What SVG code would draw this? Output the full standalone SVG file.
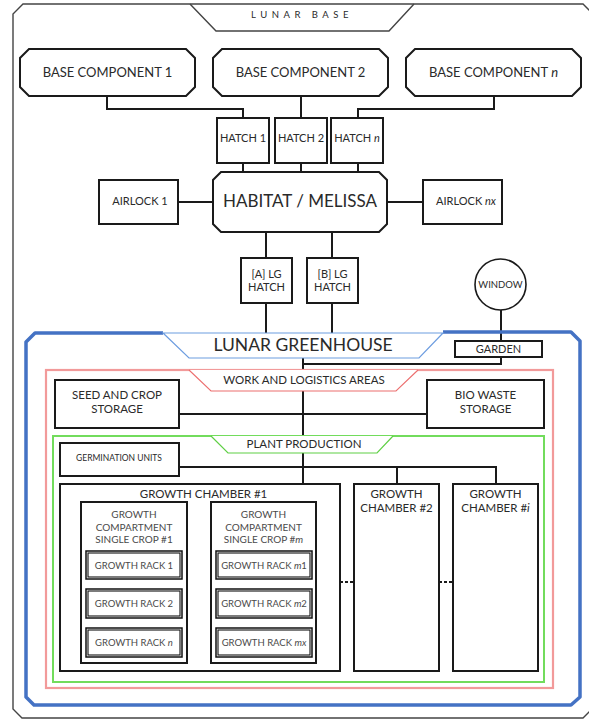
<svg xmlns="http://www.w3.org/2000/svg" width="589" height="719" viewBox="0 0 589 719">
<style>
text{font-family:Lato,"Open Sans","Liberation Sans",sans-serif;fill:#2a2a2a;text-anchor:middle}
.box{fill:#fff;stroke:#1a1a1a;stroke-width:2}
.ln{fill:none;stroke:#1a1a1a;stroke-width:2}
.frame{fill:none;stroke:#444;stroke-width:1.4}
.blue{fill:none;stroke:#4472c4;stroke-width:3.5;stroke-linejoin:round}
.bluetab{fill:#fff;stroke:#6d9de0;stroke-width:1.2}
.red{fill:none;stroke:#f29a9a;stroke-width:2.2}
.redtab{fill:#fff;stroke:#ec6f6f;stroke-width:1.1}
.green{fill:none;stroke:#72dc5c;stroke-width:2}
.greentab{fill:#fff;stroke:#5fcf45;stroke-width:1.2}
.rack{fill:#fff;stroke:#111;stroke-width:1.5}
.rackin{fill:none;stroke:#111;stroke-width:1.1}
.grey{fill:#4a4a4a}
.rt{fill:#4a4a4a;font-size:9.5px}
.it{font-style:italic}
</style>

<g id="lunar-base">
<path class="frame" d="M23,4 H583 L592,13 V709 L583,718 H22 L13,709 V14 Z"/>
<path class="frame" d="M190,4 L216,31 H389 L414,4"/>
<text x="302" y="18" font-size="9.5" letter-spacing="4.5">LUNAR BASE</text>
</g>

<g id="connectors">
<path class="ln" d="M107,96 V109 H243 V118"/>
<path class="ln" d="M301,96 V118"/>
<path class="ln" d="M494,96 V109 H358 V118"/>
<path class="ln" d="M243,163 V172 M301,163 V172 M358,163 V172"/>
<path class="ln" d="M178,202 H213 M387,202 H423"/>
<path class="ln" d="M266,232 V258 M332,232 V258"/>
<path class="ln" d="M266,303 V334 M332,303 V334"/>
<path class="ln" d="M501,310 V341"/>
<path class="ln" d="M501,357 V364 H303"/>
<path class="ln" d="M303,358 V371 M303,391 V437"/>
<path class="ln" d="M179,414 H427"/>
<path class="ln" d="M303,453 V484"/>
<path class="ln" d="M179,467 H496 V484 M397,467 V484"/>
<path class="ln" d="M340,582 H354 M439,582 H453" stroke-dasharray="3,2"/>
</g>

<g id="base-component-1">
<polygon class="box" points="29,49 186,49 195,58 195,87 186,96 29,96 20,87 20,58"/>
<text x="107.5" y="77" font-size="13">BASE COMPONENT 1</text>
</g>
<g id="base-component-2">
<polygon class="box" points="222,49 379,49 388,58 388,87 379,96 222,96 213,87 213,58"/>
<text x="300.5" y="77" font-size="13">BASE COMPONENT 2</text>
</g>
<g id="base-component-n">
<polygon class="box" points="415,49 572,49 581,58 581,87 572,96 415,96 406,87 406,58"/>
<text x="493.5" y="77" font-size="13">BASE COMPONENT <tspan class="it">n</tspan></text>
</g>

<g id="hatch-1">
<rect class="box" x="217" y="118" width="52" height="45"/>
<text x="243" y="142" font-size="11">HATCH 1</text>
</g>
<g id="hatch-2">
<rect class="box" x="275" y="118" width="52" height="45"/>
<text x="301" y="142" font-size="11">HATCH 2</text>
</g>
<g id="hatch-n">
<rect class="box" x="331" y="118" width="52" height="45"/>
<text x="357" y="142" font-size="11">HATCH <tspan class="it">n</tspan></text>
</g>

<g id="habitat">
<polygon class="box" points="221,172 379,172 387,180 387,224 379,232 221,232 213,224 213,180"/>
<text x="300" y="207" font-size="17">HABITAT / MELISSA</text>
</g>

<g id="airlock-1">
<rect class="box" x="99" y="180" width="79" height="44"/>
<text x="140" y="205" font-size="11">AIRLOCK 1</text>
</g>
<g id="airlock-nx">
<rect class="box" x="423" y="180" width="79" height="44"/>
<text x="466" y="205" font-size="11">AIRLOCK <tspan class="it">nx</tspan></text>
</g>

<g id="lg-hatch-a">
<rect class="box" x="241" y="258" width="51" height="45"/>
<text x="266.5" y="278" font-size="11">[A] LG</text>
<text x="266.5" y="291" font-size="11">HATCH</text>
</g>
<g id="lg-hatch-b">
<rect class="box" x="307" y="258" width="51" height="45"/>
<text x="332.5" y="278" font-size="11">[B] LG</text>
<text x="332.5" y="291" font-size="11">HATCH</text>
</g>

<g id="window">
<circle cx="500.5" cy="284.5" r="25.5" fill="#fff" stroke="#1a1a1a" stroke-width="1.6"/>
<text x="500.5" y="288" font-size="9.5">WINDOW</text>
</g>

<g id="lunar-greenhouse">
<path class="blue" d="M163,333 H35 L26,342 V697 L34,705 H571 L580,697 V341 L571,332 H443"/>
<path class="bluetab" d="M163,333 L189,358 H419 L443,333 Z"/>
<text x="303" y="351" font-size="17.5">LUNAR GREENHOUSE</text>
</g>

<g id="garden">
<rect class="box" x="455" y="341" width="87" height="16"/>
<text x="498.5" y="353" font-size="11">GARDEN</text>
</g>

<g id="work-logistics">
<rect class="red" x="46" y="370" width="507" height="318"/>
<path class="redtab" d="M189,370 L211,391 H396 L418,370"/>
<text x="304" y="384" font-size="11.5">WORK AND LOGISTICS AREAS</text>
</g>

<g id="seed-crop-storage">
<rect class="box" x="55" y="380" width="124" height="48"/>
<text x="117" y="399" font-size="11.5">SEED AND CROP</text>
<text x="117" y="413" font-size="11.5">STORAGE</text>
</g>
<g id="bio-waste-storage">
<rect class="box" x="427" y="380" width="117" height="48"/>
<text x="485.5" y="399" font-size="11.5">BIO WASTE</text>
<text x="485.5" y="413" font-size="11.5">STORAGE</text>
</g>

<g id="plant-production">
<rect class="green" x="53" y="436" width="491" height="246"/>
<path class="greentab" d="M211,436 L228,453 H377 L393,436"/>
<text x="304" y="448" font-size="11.5">PLANT PRODUCTION</text>
</g>

<g id="germination-units">
<rect class="box" x="60" y="443" width="119" height="33"/>
<text x="119" y="461" font-size="8.5">GERMINATION UNITS</text>
</g>

<g id="growth-chamber-1">
<rect class="box" x="60" y="484" width="280" height="187"/>
<text x="203.5" y="498" font-size="11.5">GROWTH CHAMBER #1</text>
</g>
<g id="growth-chamber-2">
<rect class="box" x="354" y="484" width="85" height="187"/>
<text x="396.5" y="498" font-size="11.5">GROWTH</text>
<text x="396.5" y="512" font-size="11.5">CHAMBER #2</text>
</g>
<g id="growth-chamber-i">
<rect class="box" x="453" y="484" width="85" height="187"/>
<text x="495.5" y="498" font-size="11.5">GROWTH</text>
<text x="495.5" y="512" font-size="11.5">CHAMBER #<tspan class="it">i</tspan></text>
</g>

<g id="compartment-1">
<rect class="box" x="81" y="502" width="106" height="161" stroke-width="2.4"/>
<text class="grey" x="134" y="518" font-size="10">GROWTH</text>
<text class="grey" x="134" y="531" font-size="10">COMPARTMENT</text>
<text class="grey" x="134" y="543" font-size="10">SINGLE CROP #1</text>
</g>
<g id="rack-1">
<rect class="rack" x="86" y="551" width="96" height="28"/><rect class="rackin" x="88" y="553" width="92" height="24"/>
<text class="rt" x="134" y="568.5">GROWTH RACK 1</text>
</g>
<g id="rack-2">
<rect class="rack" x="86" y="589" width="96" height="29"/><rect class="rackin" x="88" y="591" width="92" height="25"/>
<text class="rt" x="134" y="607">GROWTH RACK 2</text>
</g>
<g id="rack-n">
<rect class="rack" x="86" y="628" width="96" height="29"/><rect class="rackin" x="88" y="630" width="92" height="25"/>
<text class="rt" x="134" y="646">GROWTH RACK <tspan class="it">n</tspan></text>
</g>

<g id="compartment-m">
<rect class="box" x="211" y="502" width="105" height="161" stroke-width="2.4"/>
<text class="grey" x="263.5" y="518" font-size="10">GROWTH</text>
<text class="grey" x="263.5" y="531" font-size="10">COMPARTMENT</text>
<text class="grey" x="263.5" y="543" font-size="10">SINGLE CROP #<tspan class="it">m</tspan></text>
</g>
<g id="rack-m1">
<rect class="rack" x="216" y="551" width="96" height="28"/><rect class="rackin" x="218" y="553" width="92" height="24"/>
<text class="rt" x="264" y="568.5">GROWTH RACK <tspan class="it">m</tspan>1</text>
</g>
<g id="rack-m2">
<rect class="rack" x="216" y="589" width="96" height="29"/><rect class="rackin" x="218" y="591" width="92" height="25"/>
<text class="rt" x="264" y="607">GROWTH RACK <tspan class="it">m</tspan>2</text>
</g>
<g id="rack-mx">
<rect class="rack" x="216" y="628" width="96" height="29"/><rect class="rackin" x="218" y="630" width="92" height="25"/>
<text class="rt" x="264" y="646">GROWTH RACK <tspan class="it">mx</tspan></text>
</g>
</svg>
